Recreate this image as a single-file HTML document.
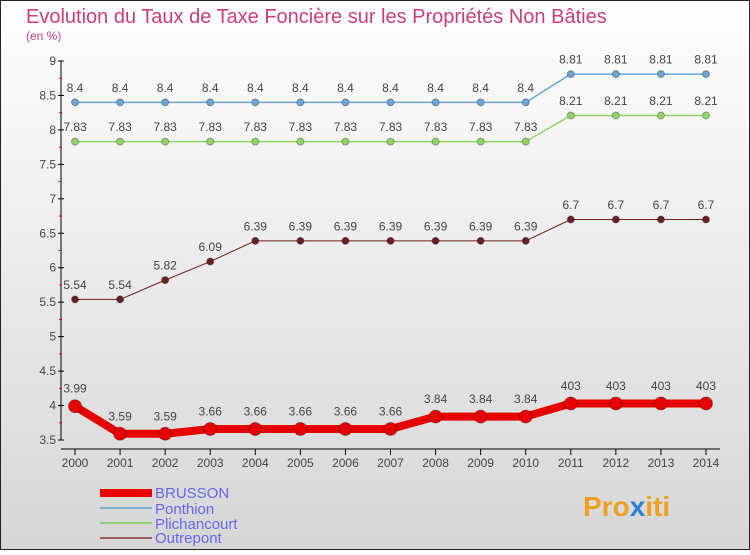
<!DOCTYPE html>
<html><head><meta charset="utf-8"><style>
body{margin:0;width:750px;height:550px;overflow:hidden;font-family:"Liberation Sans",sans-serif}
</style></head><body>
<svg width="750" height="550" xmlns="http://www.w3.org/2000/svg" id="svg">
<defs><linearGradient id="bg" x1="0" y1="0" x2="0" y2="1"><stop offset="0" stop-color="#ffffff"/><stop offset="1" stop-color="#d6d6d6"/></linearGradient></defs>
<rect x="0.5" y="0.5" width="749" height="549" fill="url(#bg)" stroke="#222"/>
<text x="26" y="23" font-size="20" fill="#c8407a">Evolution du Taux de Taxe Foncière sur les Propriétés Non Bâties</text>
<text x="26" y="40" font-size="12" fill="#c8407a">(en %)</text>
<g id="axes"></g><g id="series"></g>
<g font-size="15" fill="#6666ee">
<line x1="100" y1="493" x2="152" y2="493" stroke="#e00" stroke-width="8"/><text x="155" y="498">BRUSSON</text>
<line x1="100" y1="508" x2="152" y2="508" stroke="#7aaed0" stroke-width="2"/><text x="155" y="514">Ponthion</text>
<line x1="100" y1="523" x2="152" y2="523" stroke="#90d070" stroke-width="2"/><text x="155" y="529">Plichancourt</text>
<line x1="100" y1="538" x2="152" y2="538" stroke="#9a6060" stroke-width="2"/><text x="155" y="543">Outrepont</text>
</g>
<text x="583" y="516" font-size="28" font-weight="bold" fill="#f0a020">Pro<tspan fill="#3080d0">x</tspan>iti</text>
</svg>
<script>
const years=[2000,2001,2002,2003,2004,2005,2006,2007,2008,2009,2010,2011,2012,2013,2014];
const brusson=[3.99,3.59,3.59,3.66,3.66,3.66,3.66,3.66,3.84,3.84,3.84,4.03,4.03,4.03,4.03];
const brussonLabels=["3.99","3.59","3.59","3.66","3.66","3.66","3.66","3.66","3.84","3.84","3.84","403","403","403","403"];
const ponthion=[8.4,8.4,8.4,8.4,8.4,8.4,8.4,8.4,8.4,8.4,8.4,8.81,8.81,8.81,8.81];
const plichancourt=[7.83,7.83,7.83,7.83,7.83,7.83,7.83,7.83,7.83,7.83,7.83,8.21,8.21,8.21,8.21];
const outrepont=[5.54,5.54,5.82,6.09,6.39,6.39,6.39,6.39,6.39,6.39,6.39,6.7,6.7,6.7,6.7];
const yTicks=[3.5,4,4.5,5,5.5,6,6.5,7,7.5,8,8.5,9];
const NS="http://www.w3.org/2000/svg";
const x=i=>75+i*(706-75)/14, y=v=>440-(v-3.5)*(440-61)/5.5;
function mk(t,a,p){const e=document.createElementNS(NS,t);for(const k in a)e.setAttribute(k,a[k]);p.appendChild(e);return e;}
const ax=document.getElementById('axes'),se=document.getElementById('series');
const yl=mk('line',{x1:61,y1:61,x2:61,y2:440,stroke:'#000'},ax);


const xl=mk('line',{x1:61,y1:449,x2:720,y2:449,stroke:'#000'},ax);


yTicks.forEach(v=>{mk('line',{x1:58,y1:y(v),x2:64,y2:y(v),stroke:'#000'},ax);
 if(v<9) mk('line',{x1:59,y1:y(v+0.25),x2:62,y2:y(v+0.25),stroke:'#f00'},ax);
 const t=mk('text',{x:56,y:y(v)+4,'text-anchor':'end','font-size':12,fill:'#444'},ax);t.textContent=String(v);
 
 });
years.forEach((yr,i)=>{mk('line',{x1:x(i),y1:449,x2:x(i),y2:455,stroke:'#000'},ax);
 const t=mk('text',{x:x(i),y:467,'text-anchor':'middle','font-size':12,fill:'#444'},ax);t.textContent=yr;
 
 });
function draw(vals,labels,color,w,r,name){
 const g=mk('g',{},se);
 
 
 mk('polyline',{points:vals.map((v,i)=>x(i)+','+y(v)).join(' '),fill:'none',stroke:color,'stroke-width':w,'stroke-linejoin':'round'},g);
 vals.forEach((v,i)=>{const c=mk('circle',{cx:x(i),cy:y(v),r:r,fill:color,stroke:'rgba(0,0,0,0.3)'},g);
  
  
  const t=mk('text',{x:x(i),y:y(v)-(r+7),'text-anchor':'middle','font-size':12,fill:'#444'},g);t.textContent=labels[i];});
}
draw(ponthion,ponthion.map(String),'#6aa6d6',1.5,3.5,'ponthion');
draw(plichancourt,plichancourt.map(String),'#90d468',1.5,3.5,'plichancourt');
draw(outrepont,outrepont.map(String),'#6a2020',1,3.5,'outrepont');
draw(brusson,brussonLabels,'#e80000',8,6.5,'brusson');
</script>
</body></html>
